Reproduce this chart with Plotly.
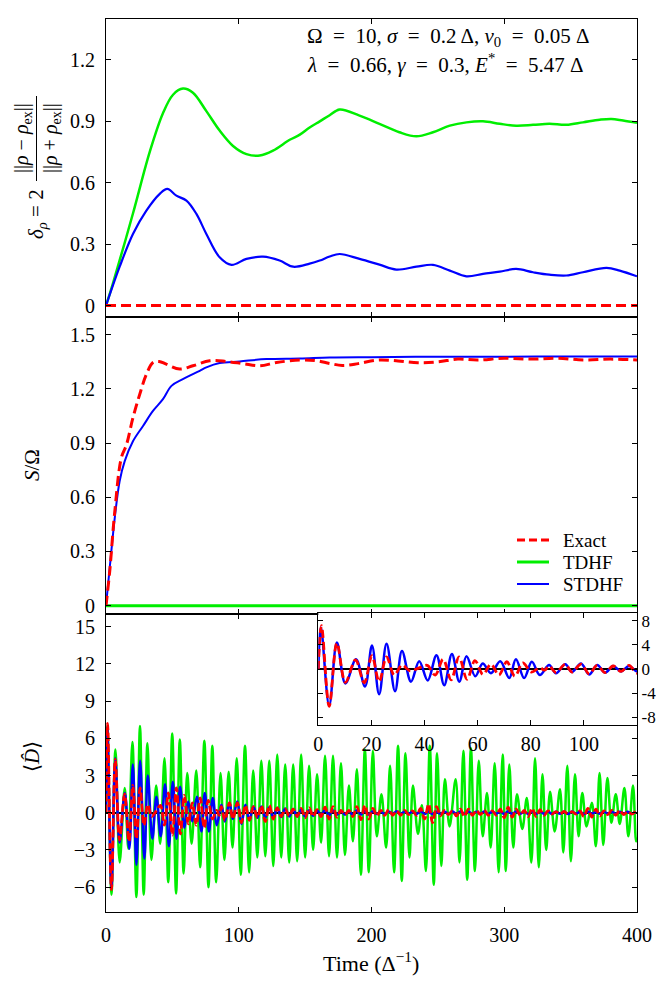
import plotly.graph_objects as go

# ---------------- DATA ----------------
# Panel 1: delta_rho
t_rho_tdhf = [0, 5.3, 20.3, 32.9, 42.9, 50.5, 58, 65.5, 75.6, 85.6, 95.7, 105.8, 115.8, 125.8, 138.4, 146,
              153.4, 161, 168.5, 176, 191, 206, 221, 233.8, 246.3, 259, 271.5, 284, 296.6, 309, 321.7, 334,
              346.8, 359.3, 371.9, 380.7, 389.5, 400]
rho_tdhf = [0, 0.11, 0.45, 0.75, 0.94, 1.03, 1.06, 1.04, 0.95, 0.855, 0.78, 0.74, 0.733, 0.757, 0.81, 0.835,
            0.87, 0.9, 0.93, 0.958, 0.928, 0.888, 0.847, 0.827, 0.847, 0.879, 0.895, 0.90, 0.888, 0.879, 0.883,
            0.888, 0.883, 0.895, 0.908, 0.912, 0.904, 0.893]
t_rho_stdhf = [0, 10.3, 20.3, 30.4, 40.5, 46.2, 53, 60.6, 68.1, 75.6, 85.6, 94.5, 105.8, 118.3, 130.8, 141,
               153.4, 161, 168.5, 176, 191, 206, 218.7, 233.8, 246.3, 259, 271.5, 284, 296.6, 309, 321.7, 334,
               346.8, 359.3, 377, 387, 400]
rho_stdhf = [0, 0.19, 0.35, 0.464, 0.546, 0.57, 0.537, 0.513, 0.448, 0.35, 0.236, 0.199, 0.228, 0.239, 0.22,
             0.19, 0.205, 0.22, 0.24, 0.252, 0.228, 0.2, 0.176, 0.19, 0.199, 0.171, 0.143, 0.155, 0.166, 0.179,
             0.163, 0.151, 0.147, 0.163, 0.184, 0.171, 0.143]
t_rho_exact = [0, 400]
rho_exact = [0, 0]

# Panel 2: S / Omega
t_s_exact = [0, 2.8, 6.6, 11.6, 15.4, 20.3, 25.4, 30.4, 35.4, 40, 45.4, 55.5, 65.5, 78.1, 90.7, 103.2, 115.8,
             128.4, 145.9, 158.4, 168.5, 178, 190, 205, 220, 235, 250, 265, 280, 300, 320, 340, 360, 380, 400]
s_exact = [0, 0.19, 0.52, 0.82, 0.89, 1.04, 1.17, 1.28, 1.346, 1.352, 1.337, 1.31, 1.328, 1.356, 1.352, 1.34,
           1.328, 1.346, 1.36, 1.356, 1.341, 1.33, 1.34, 1.36, 1.355, 1.345, 1.35, 1.365, 1.36, 1.37, 1.365,
           1.37, 1.36, 1.365, 1.36]
t_s_stdhf = [0, 2.8, 6.6, 10.3, 14.1, 20.3, 27.9, 35.4, 42.9, 49.3, 57.9, 70.6, 75.6, 85.6, 100.7, 120.8,
             145.9, 168.5, 200, 250, 300, 350, 400]
s_stdhf = [0, 0.21, 0.486, 0.69, 0.80, 0.91, 0.995, 1.078, 1.143, 1.217, 1.254, 1.30, 1.319, 1.343, 1.352,
           1.365, 1.368, 1.374, 1.376, 1.378, 1.378, 1.38, 1.38]
t_s_tdhf = [0, 400]
s_tdhf = [0, 0]

# Panel 3: dipole <D> (extrema)
t_d_tdhf = [0, 1.1, 4.1, 7.1, 10.3, 14.1, 16.8, 19.9, 22.9, 25.6, 28.4, 31.2, 34.2, 37.8, 40.8, 44.1, 46.9,
            49.9, 52.8, 55.6, 58.5, 61.2, 64.5, 68.0, 70.9, 74.1, 77.2, 80.1, 83.0, 86.3, 89.2, 92.4, 95.3,
            98.5, 101.5, 104.7, 107.8, 110.9, 114.0, 117.0, 120.0, 123.0, 126.0, 129.0, 132.0, 135.0, 138.0,
            141.0, 144.0, 147.0, 150.0, 153.0, 156.0, 159.0, 162.0, 165.0, 168.0, 171.0, 174.0, 177.0, 180.0,
            183.0, 186.0, 189.0, 192.0, 195.0, 198.0, 201.0, 204.0, 207.5, 211.0, 214.0, 217.0, 220.0, 222.8,
            225.6, 228.6, 231.2, 235.0, 238.0, 241.0, 243.9, 246.9, 249.4, 252.6, 255.3, 258.8, 263.4, 266.3,
            269.2, 272.1, 274.9, 277.9, 280.8, 283.8, 287.0, 289.8, 292.8, 295.8, 298.8, 301.2, 303.8, 306.8,
            309.6, 313.6, 317.0, 320.4, 323.2, 326.0, 328.8, 331.6, 334.5, 338.0, 342.0, 344.5, 347.5, 350.2,
            353.3, 356.0, 358.8, 362.0, 366.0, 369.0, 371.8, 374.6, 377.7, 380.7, 384.0, 387.0, 390.5, 393.5,
            397.0, 399.3, 400]
d_tdhf = [0, 7.0, -6.6, 5.1, -4.0, 2.0, -2.9, 5.7, -6.8, 7.0, -6.6, 5.6, -3.8, 2.2, -2.5, 4.4, -5.6,
          6.4, -6.5, 5.9, -4.9, 3.2, -2.5, 3.4, -4.4, 5.8, -6.0, 5.4, -5.6, 3.2, -3.8, 3.3, -2.8,
          4.4, -5.0, 5.4, -4.8, 3.4, -3.6, 4.2, -3.5, 4.2, -4.3, 4.7, -3.6, 3.9, -4.0,
          3.9, -3.9, 4.7, -3.6, 3.8, -3.0, 3.1, -2.4, 4.6, -3.5, 4.6, -3.6, 4.0, -3.4,
          2.2, -2.3, 3.5, -5.0, 5.1, -4.8, 5.0, -1.9, 1.5, -2.8, 3.8, -4.8, 5.4, -5.5,
          4.8, -3.6, 2.2, -1.7, 0.6, -4.7, 5.4, -5.8, 4.8, -4.3, 2.7, -1.1, 2.7, -4.0,
          5.0, -5.4, 5.2, -4.7, 4.2, -1.9, 1.6, -2.8, 4.0, -4.8, 4.7, -4.7, 3.9, -2.8,
          1.5, -1.3, 1.2, -4.0, 4.4, -4.4, 3.1, -3.0, 1.7, -1.5, 1.9, -3.2, 3.8, -3.9,
          3.1, -1.9, 1.6, -1.1, 0.8, -2.7, 3.2, -2.6, 2.8, -0.8, 1.5, -0.9, 2.0, -1.9,
          2.2, -2.3, -2.0]

t_d_head = [0, 1.0, 4.1, 7.0, 10.2, 14.2, 17.6, 20.2, 22.9, 25.7, 28.9, 31.5, 34.9, 38.0, 41.2, 44.5, 47.4,
            50.3, 53.1, 55.8, 59.1, 61.9, 65.0, 68.5, 71.9, 74.4, 77.5, 80.4, 83.4, 86.9, 89.5, 93.0, 95.5,
            98.9, 102, 105, 108, 111, 114, 117, 120]
d_stdhf_head = [0, 6.9, -6.1, 4.4, -2.4, 1.6, -2.9, 3.9, -4.2, 4.2, -3.7, 3.0, -2.1, 1.3, -1.9, 2.3, -2.7,
                2.5, -2.1, 2.1, -1.2, 0.9, -0.7, 1.3, -1.5, 1.6, -1.5, 1.2, -1.0, 0.65, -0.7, 0.8, -0.5,
                0.9, -0.9, 0.65, -0.6, 0.5, -0.4, 0.5, -0.4]
t_d_exact_head = [0, 1.2, 4.1, 7.0, 10.2, 14.0, 17.3, 20.2, 22.9, 25.7, 28.6, 31.5, 34.5, 37.5, 41.0, 44.0,
                  47.0, 50.0, 53.0, 56.0, 59.0, 62.0, 65.0, 68.0, 71.0, 74.0, 77.0, 80.2, 83.4, 85.2, 86.9,
                  89.5, 93.0, 95.5, 99.0, 102, 105, 108, 111, 114, 117, 120]
d_exact_head = [0, 7.2, -6.2, 4.3, -2.2, 1.5, -2.3, 2.2, -2.1, 2.0, -1.0, 0.65, -0.3, 0.1, 0.6, -1.0,
                1.6, -1.8, 2.0, -1.7, 1.4, -0.9, 0.8, -1.0, 1.2, -1.2, 1.0, -0.5, 0.2, -0.2, 0.5,
                -0.6, 0.8, -0.5, 0.8, -0.8, 0.6, -0.6, 0.5, -0.4, 0.6, -0.7]

t_d_tail = [123, 126, 129, 132, 135, 138, 141, 144, 147, 150, 153, 156, 159, 162, 165, 168, 171, 174, 177,
            180, 183, 186, 189, 192, 195, 198, 201, 204, 207, 210, 213, 216, 219, 222, 225, 228, 231, 234,
            237, 240, 243, 246, 249, 252, 255, 258, 261, 264, 267, 270, 273, 276, 279, 282, 285, 288, 291,
            294, 297, 300, 303, 306, 309, 312, 315, 318, 321, 324, 327, 330, 333, 336, 339, 342, 345, 348,
            351, 354, 357, 360, 363, 366, 369, 372, 375, 378, 381, 384, 387, 390, 393, 396, 399]
d_stdhf_tail = [0.45, -0.4, 0.4, -0.35, 0.35, -0.3, 0.3, -0.3, 0.25, -0.3, 0.2, -0.25, 0.2, -0.2, 0.25,
                -0.2, 0.2, -0.15, 0.15, -0.15, 0.15, -0.2, 0.2, -0.15, 0.15, -0.15, 0.12, -0.1, 0.1, -0.12,
                0.1, -0.1, 0.12, -0.1, 0.1, -0.08, 0.1, -0.1, 0.12, -0.1, 0.1, -0.1, 0.08, -0.1, 0.1, -0.1,
                0.1, -0.08, 0.1, -0.1, 0.1, -0.1, 0.08, -0.08, 0.1, -0.1, 0.1, -0.08, 0.1, -0.1, 0.12, -0.1,
                0.1, -0.08, 0.08, -0.1, 0.1, -0.1, 0.08, -0.08, 0.1, -0.1, 0.08, -0.08, 0.08, -0.1, 0.1,
                -0.08, 0.08, -0.1, 0.1, -0.08, 0.08, -0.08, 0.1, -0.08, 0.08, -0.08, 0.08, -0.08, 0.08,
                -0.08, 0.08]
d_exact_tail = [0.6, -0.5, 0.4, -0.3, 0.3, -0.25, 0.3, -0.3, 0.35, -0.4, 0.4, -0.3, 0.25, -0.3, 0.45, -0.5,
                0.5, -0.35, 0.2, -0.15, 0.2, -0.3, 0.5, -0.55, 0.6, -0.5, 0.35, -0.25, 0.2, -0.2, 0.25,
                -0.2, 0.15, -0.2, 0.2, -0.15, 0.15, -0.2, 0.35, -0.5, 0.7, -0.8, 0.5, -0.25, 0.2, -0.15,
                0.15, -0.25, 0.3, -0.3, 0.3, -0.2, 0.2, -0.15, 0.2, -0.2, 0.15, -0.2, 0.3, -0.4, 0.45,
                -0.35, 0.3, -0.2, 0.2, -0.3, 0.35, -0.3, 0.25, -0.2, 0.15, -0.1, 0.1, -0.1, 0.12, -0.1,
                0.1, -0.1, 0.15, -0.3, 0.35, -0.35, 0.3, -0.25, 0.15, -0.15, 0.2, -0.2, 0.2, -0.15, 0.1,
                -0.1, 0.1]

t_d_stdhf = t_d_head + t_d_tail
d_stdhf = d_stdhf_head + d_stdhf_tail
t_d_exact = t_d_exact_head + t_d_tail
d_exact = d_exact_head + d_exact_tail

x_ticks = [0, 100, 200, 300, 400]
y1_ticks = [0, 0.3, 0.6, 0.9, 1.2]
y1_text = ["0", "0.3", "0.6", "0.9", "1.2"]
y2_ticks = [0, 0.3, 0.6, 0.9, 1.2, 1.5]
y2_text = ["0", "0.3", "0.6", "0.9", "1.2", "1.5"]
y3_ticks = [-6, -3, 0, 3, 6, 9, 12, 15]
inset_x_ticks = [0, 20, 40, 60, 80, 100]
inset_y_ticks = [-8, -4, 0, 4, 8]
inset_y_text = ["-8", "-4", "0", "4", "8"]
legend_names = ["Exact", "TDHF", "STDHF"]

# ---------------- STYLE ----------------
RED = "#ff0000"
GREEN = "#00ee00"
BLUE = "#0000ff"
FONT = "Liberation Serif"
FS = 20

# the page body adds an 8px margin; the figure is sized so that the
# plotting area lands at the same viewport pixels as the reference
OFF = 8
W, H = 648, 970
PL, PR, PT, PB = 106, 637, 19, 912     # plot area in viewport pixels
ML, MT = PL - OFF, PT - OFF
MR = (W + OFF) - PR
MB = (H + OFF) - PB
PW = PR - PL
PH = PB - PT


def px(x):
    return (x - PL) / PW


def py(y):
    return (PB - y) / PH


fig = go.Figure()

dash = "10px,5px"
# panel 1
fig.add_trace(go.Scatter(x=t_rho_tdhf, y=rho_tdhf, mode="lines", name="TDHF",
                         line=dict(color=GREEN, width=2.5, shape="spline"), xaxis="x", yaxis="y", showlegend=False))
fig.add_trace(go.Scatter(x=t_rho_stdhf, y=rho_stdhf, mode="lines", name="STDHF",
                         line=dict(color=BLUE, width=2.2, shape="spline"), xaxis="x", yaxis="y", showlegend=False))
fig.add_trace(go.Scatter(x=t_rho_exact, y=rho_exact, mode="lines", name="Exact",
                         line=dict(color=RED, width=3, dash=dash), xaxis="x", yaxis="y", showlegend=False))
# panel 2
fig.add_trace(go.Scatter(x=t_s_tdhf, y=s_tdhf, mode="lines", name="TDHF", showlegend=False,
                         line=dict(color=GREEN, width=3), xaxis="x2", yaxis="y2"))
fig.add_trace(go.Scatter(x=t_s_stdhf, y=s_stdhf, mode="lines", name="STDHF", showlegend=False,
                         line=dict(color=BLUE, width=2, shape="spline"), xaxis="x2", yaxis="y2"))
fig.add_trace(go.Scatter(x=t_s_exact, y=s_exact, mode="lines", name="Exact", showlegend=False,
                         line=dict(color=RED, width=3, dash=dash, shape="spline"), xaxis="x2", yaxis="y2"))
# panel 3
fig.add_trace(go.Scatter(x=t_d_tdhf, y=d_tdhf, mode="lines", name="TDHF",
                         line=dict(color=GREEN, width=2.5, shape="spline"), xaxis="x3", yaxis="y3", showlegend=False))
fig.add_trace(go.Scatter(x=t_d_stdhf, y=d_stdhf, mode="lines", name="STDHF",
                         line=dict(color=BLUE, width=2.5, shape="spline"), xaxis="x3", yaxis="y3", showlegend=False))
fig.add_trace(go.Scatter(x=t_d_exact, y=d_exact, mode="lines", name="Exact",
                         line=dict(color=RED, width=2.8, dash="8px,3px", shape="spline"),
                         xaxis="x3", yaxis="y3", showlegend=False))
# inset
fig.add_trace(go.Scatter(x=t_d_stdhf, y=d_stdhf, mode="lines", name="STDHF",
                         line=dict(color=BLUE, width=2.5, shape="spline"), xaxis="x4", yaxis="y4", showlegend=False))
fig.add_trace(go.Scatter(x=t_d_exact, y=d_exact, mode="lines", name="Exact",
                         line=dict(color=RED, width=2.8, dash="8px,4px", shape="spline"),
                         xaxis="x4", yaxis="y4", showlegend=False))

common_x = dict(range=[0, 400], tickvals=x_ticks, ticks="inside", ticklen=5, tickcolor="black",
                mirror="allticks", showline=True, linecolor="black", linewidth=1, showgrid=False,
                zeroline=False)
common_y = dict(ticks="inside", ticklen=5, tickcolor="black", mirror="allticks", showline=True,
                linecolor="black", linewidth=1, showgrid=False, ticklabelstandoff=6)

d1 = [2 / 3, 1.0]
d2 = [1 / 3, 2 / 3]
d3 = [0.0, 1 / 3]

fig.update_layout(
    width=W, height=H,
    margin=dict(l=ML, r=MR, t=MT, b=MB, autoexpand=False),
    paper_bgcolor="white", plot_bgcolor="white",
    font=dict(family=FONT, size=FS, color="black"),
    showlegend=False,
    xaxis=dict(common_x, anchor="y", showticklabels=False),
    xaxis2=dict(common_x, anchor="y2", showticklabels=False, matches="x"),
    xaxis3=dict(common_x, anchor="y3", showticklabels=True, ticklabelstandoff=5),
    yaxis=dict(common_y, domain=d1, anchor="x", range=[-0.054, 1.4], tickvals=y1_ticks, ticktext=y1_text,
               zeroline=False),
    yaxis2=dict(common_y, domain=d2, anchor="x2", range=[-0.048, 1.6], tickvals=y2_ticks, ticktext=y2_text,
                zeroline=False),
    yaxis3=dict(common_y, domain=d3, anchor="x3", range=[-8, 16], tickvals=y3_ticks,
                zeroline=True, zerolinecolor="black", zerolinewidth=1.5),
    xaxis4=dict(domain=[px(318.3), 1.0], anchor="y4", range=[0, 120], tickvals=inset_x_ticks,
                ticks="inside", ticklen=5, tickcolor="black", mirror="allticks", showline=True,
                linecolor="black", linewidth=1.2, showgrid=False, zeroline=False, ticklabelstandoff=1),
    yaxis4=dict(domain=[py(725), py(613)], anchor="x4", side="right", range=[-9.3, 9.3],
                tickvals=inset_y_ticks, ticktext=inset_y_text, ticks="inside", ticklen=5, tickcolor="black",
                mirror="allticks", showline=True, linecolor="black", linewidth=1.2, showgrid=False,
                zeroline=True, zerolinecolor="black", zerolinewidth=1.5, ticklabelstandoff=0,
                tickfont=dict(family=FONT, size=17)),
)

ann = []


def add_ann(text, x, y, angle=0, xanchor="center", yanchor="middle", size=FS):
    ann.append(dict(text=text, x=px(x), y=py(y), xref="paper", yref="paper", showarrow=False,
                    textangle=angle, xanchor=xanchor, yanchor=yanchor, font=dict(family=FONT, size=size)))


EQ = "\u2002=\u2002"
add_ann("Ω" + EQ + "10, <i>σ</i>" + EQ + "0.2 Δ, <i>v</i><sub>0</sub>" + EQ + "0.05 Δ", 305, 37,
        xanchor="left", size=21)
add_ann("<i>λ</i>" + EQ + "0.66, <i>γ</i>" + EQ + "0.3, <i>E</i><sup>*</sup>" + EQ + "5.47 Δ", 305, 63,
        xanchor="left", size=21)
add_ann("<i>δ</i><sub><i>ρ</i></sub> = 2", 37, 214, angle=-90, size=21)
add_ann("||<i>ρ</i> − <i>ρ</i><sub>ex</sub>||", 22, 138, angle=-90, size=20)
add_ann("||<i>ρ</i> + <i>ρ</i><sub>ex</sub>||", 51, 138, angle=-90, size=20)
add_ann("<i>S</i>/Ω", 32, 465, angle=-90, size=21)
add_ann("⟨<i>D\u0302</i>⟩", 32, 757, angle=-90, size=21)
add_ann("Time (Δ<sup>−1</sup>)", 371, 962, size=22)

# legend drawn in panel 2 (bottom right)
legend_y = [540, 562, 584]
legend_styles = [dict(color=RED, width=3, dash="8px,4px"), dict(color=GREEN, width=3), dict(color=BLUE, width=2)]
for name, yy, st in zip(legend_names, legend_y, legend_styles):
    add_ann(name, 561, yy, xanchor="left", size=19)
    fig.add_shape(type="line", xref="paper", yref="paper", x0=px(517), x1=px(549), y0=py(yy), y1=py(yy),
                  line=st)

fig.update_layout(annotations=ann)
# fraction bar of the y-axis label in panel 1
fig.add_shape(type="line", xref="paper", yref="paper", x0=px(36.5), x1=px(36.5), y0=py(96), y1=py(181),
              line=dict(color="black", width=1))

fig.write_html("out.html")
